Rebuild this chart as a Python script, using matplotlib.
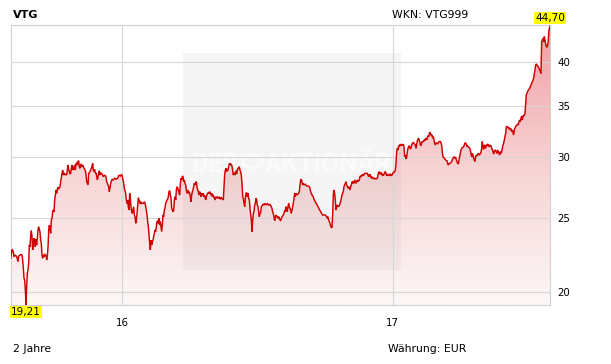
import numpy as np
import pandas as pd
import matplotlib
matplotlib.use("Agg")
import matplotlib.pyplot as plt
import matplotlib.dates as mdates
from matplotlib.colors import LinearSegmentedColormap
from matplotlib.image import AxesImage
from matplotlib.patches import Rectangle, Circle
from matplotlib.ticker import FixedLocator, FixedFormatter, NullLocator

title = "VTG"
wkn_label = "WKN: VTG999"
period_label = "2 Jahre"
currency_label = "Währung: EUR"
watermark_left = "DER"
watermark_right = "AKTIONÄR"
start_date = "2015-08-03"

# calendar-day offsets from start_date and closing prices (EUR)
days = [
    0.0, 1.8, 3.6, 4.5, 6.3, 8.1, 9.9, 10.8, 13.5, 15.3, 16.2, 17.1, 18.0, 18.9, 19.8, 20.7,
    21.6, 22.5, 23.4, 24.3, 25.2, 26.1, 27.0, 27.9, 28.8, 29.7, 30.6, 31.5, 32.4, 33.3, 34.2,
    35.1, 36.0, 36.9, 37.8, 38.7, 39.6, 40.5, 41.4, 42.3, 43.2, 44.1, 45.0, 45.9, 47.8, 48.7,
    49.6, 50.5, 51.4, 52.3, 53.2, 54.1, 55.0, 55.9, 56.8, 57.7, 58.6, 59.5, 60.4, 61.3, 62.2,
    63.1, 64.0, 64.9, 66.7, 67.6, 69.4, 70.3, 71.2, 72.1, 73.0, 73.9, 75.7, 77.5, 78.4, 79.3,
    80.2, 81.1, 82.0, 82.9, 83.8, 84.7, 85.6, 86.5, 87.4, 88.3, 89.2, 90.1, 91.0, 91.9, 92.8,
    93.7, 94.6, 95.5, 96.4, 97.3, 99.2, 101.0, 101.9, 102.8, 103.7, 104.6, 105.5, 107.3, 109.1,
    110.0, 110.9, 111.8, 112.7, 113.6, 114.5, 115.4, 116.3, 117.2, 118.1, 119.0, 119.9, 120.8,
    121.7, 123.5, 125.3, 127.1, 128.9, 129.8, 130.7, 132.5, 133.4, 134.3, 135.2, 136.1, 137.0,
    138.8, 140.6, 142.4,
    144.7, 146.5, 148.3, 150.1, 151.0, 152.8, 153.7, 155.5, 156.4, 157.3, 158.2, 159.1, 160.0,
    160.9, 161.8, 162.7, 163.6, 164.5, 165.4, 166.3, 167.3, 168.2, 169.1, 170.0, 170.9, 171.8,
    172.7, 173.6, 174.5, 175.4, 176.3, 177.2, 179.0, 179.9, 180.8, 181.7, 182.6, 183.5, 184.4,
    185.3, 186.2, 187.1, 188.0, 188.9, 189.8, 190.7, 191.6, 192.5, 193.4, 194.3, 195.2, 196.1,
    197.0, 197.9, 198.8, 199.7, 200.6, 201.5, 202.4, 203.3, 204.2, 205.1, 206.0, 206.9, 207.8,
    208.7, 209.6, 210.5, 211.4, 212.3, 213.2, 214.1, 215.0, 215.9, 216.9, 217.8, 218.7, 219.6,
    220.5, 221.4, 222.3, 223.2, 224.1, 225.0, 225.9, 226.8, 227.7, 228.6, 229.5, 230.4, 231.3,
    232.2, 233.1, 234.0, 234.9, 235.8, 236.7, 237.6, 238.5, 239.4, 240.3, 241.2, 242.1, 243.0,
    243.9, 244.8, 245.7, 246.6, 247.5, 248.4, 249.3, 250.2, 251.1, 252.0, 252.9, 253.8, 254.7,
    255.6, 256.5, 257.4, 258.3, 259.2, 260.1, 261.0, 261.9, 262.8, 263.7, 264.6, 265.5, 266.4,
    267.3, 268.3, 269.2, 270.1, 271.0, 271.9, 272.8, 273.7, 274.6, 275.5, 276.4, 277.3, 278.2,
    279.1, 280.9, 281.8, 282.7, 283.6, 284.5, 285.4,
    287.6, 288.5, 289.4, 290.3, 291.2, 292.1, 293.0, 293.9, 294.8, 295.7, 296.6, 297.5, 298.4,
    299.3, 300.2, 301.1, 302.0, 302.9, 303.8, 304.7, 305.6, 306.5, 307.4, 308.3, 309.2, 310.1,
    311.0, 311.9, 312.9, 313.8, 314.7, 315.6, 316.5, 317.4, 318.3, 319.2, 320.1, 321.0, 321.9,
    322.8, 323.7, 324.6, 325.5, 326.4, 327.3, 328.2, 329.1, 330.0, 330.9, 331.8, 332.7, 333.6,
    334.5, 335.4, 336.3, 337.2, 338.1, 339.0, 339.9, 340.8, 341.7, 342.6, 343.5, 345.3, 347.1,
    348.9, 350.7, 352.5, 353.4, 354.3, 355.2, 356.1, 357.0, 357.9, 358.8, 359.7, 360.6, 361.6,
    362.5, 363.4, 364.3, 365.2, 366.1, 367.0, 368.8, 369.7, 370.6, 371.5, 372.4, 373.3, 374.2,
    375.1, 376.0, 376.9, 377.8, 378.7, 379.6, 380.5, 381.4, 382.3, 383.2, 384.1, 385.0, 385.9,
    387.7, 389.5, 390.4, 391.3, 392.2, 393.1, 394.0, 394.9, 395.8, 396.7, 398.5, 400.3, 402.1,
    403.9, 404.8, 405.7, 406.6, 407.5, 409.3, 410.2, 412.1, 413.9, 415.7, 417.5, 419.3, 421.1,
    422.0, 423.8, 425.6, 427.4, 428.3, 429.2, 430.1, 431.0, 431.9, 432.8, 433.7,
    434.6, 435.5, 436.4, 437.3, 438.2, 439.1, 440.0, 440.9, 441.8, 442.7, 444.5, 445.4, 446.3,
    447.2, 448.1, 449.0, 449.9, 450.8, 451.7, 452.6, 453.5, 454.5, 455.4, 456.3, 457.2, 458.1,
    459.0, 459.9, 460.8, 461.7, 462.6, 463.5, 464.4, 465.3, 466.2, 467.1, 468.0, 468.9, 469.8,
    471.6, 472.5, 473.4, 474.3, 475.2, 476.1, 477.0, 477.9, 478.8, 480.6, 482.4, 483.3, 484.2,
    485.1, 486.0, 486.9, 487.8, 488.7, 489.6, 490.5, 491.4, 492.3, 494.1, 495.9, 496.8, 497.7,
    498.6, 499.5, 500.4, 501.3, 502.2, 503.1, 504.0, 504.9, 505.9, 506.8, 507.7, 508.6, 509.5,
    510.4, 511.3, 512.2, 513.1, 514.0, 514.9, 515.8, 516.7, 517.6, 518.5, 519.4, 520.3, 521.2,
    522.1, 523.0, 523.9, 524.8, 525.7, 526.6, 527.5, 528.4, 529.3, 530.2, 531.1, 532.0, 532.9,
    533.8, 534.7, 535.6, 536.5, 537.4, 538.3, 539.2, 540.1, 541.0, 541.9, 542.8, 543.7, 544.6,
    545.5, 546.4, 547.3, 548.2, 549.1, 550.0, 550.9, 551.8, 552.7, 553.6, 554.5, 555.4, 556.4,
    557.3, 558.2, 559.1, 560.0, 560.9, 561.8, 562.7, 563.6, 564.5, 565.4, 566.3, 567.2, 568.1,
    569.0, 569.9, 570.8, 571.7, 572.6, 573.5, 574.4,
    575.7, 577.5, 579.3, 581.1, 582.0, 582.9, 583.8, 584.7, 586.5, 588.3, 590.1, 591.0, 591.9,
    592.8, 593.7, 595.5, 596.4, 597.3, 598.2, 600.1, 601.0, 601.9, 602.8, 603.7, 604.6, 605.5,
    606.4, 607.3, 608.2, 609.1, 610.0, 611.8, 612.7, 613.6, 614.5, 615.4, 616.3, 617.2, 618.1,
    619.0, 619.9, 620.8, 621.7, 622.6, 623.5, 624.4, 625.3, 626.2, 627.1, 628.0, 628.9, 629.8,
    630.7, 631.6, 632.5, 633.4, 634.3, 635.2, 636.1, 637.0, 637.9, 638.8, 639.7, 640.6, 641.5,
    642.4, 643.3, 644.2, 645.1, 646.0, 646.9, 647.8, 648.7, 649.7, 650.6, 651.5, 652.4, 653.3,
    654.2, 655.1, 656.0, 656.9, 657.8, 658.7, 659.6, 660.5, 661.4, 662.3, 663.2, 664.1, 665.0,
    665.9, 666.8, 667.7, 668.6, 669.5, 670.4, 671.3, 672.2, 673.1, 674.0, 674.9, 675.8, 676.7,
    677.6, 678.5, 679.4, 680.3, 681.2, 682.1, 683.0, 683.9, 684.8, 685.7, 686.6, 687.5, 688.4,
    689.3, 690.2, 691.1, 692.0, 692.9, 693.8, 694.7, 695.6, 696.5, 697.4, 698.3, 699.2, 700.1,
    701.0, 701.9, 702.9, 703.8, 704.7, 705.6, 706.5, 707.4, 708.3, 709.2, 710.1, 711.0, 711.9,
    712.8, 713.7, 714.6, 715.5, 716.4, 717.3, 718.2, 719.1, 720.0, 720.9, 721.8, 722.7, 723.6,
    724.5, 725.4, 726.3, 727.2, 728.1, 729.0, 729.9,
]

close = [
    22.12, 22.73, 22.56, 22.22, 22.34, 22.22, 21.89, 22.27, 22.36, 22.34, 22.00, 21.46, 20.82, 20.71, 20.10, 19.21,
    20.30, 21.14, 21.35, 21.78, 23.02, 22.90, 23.66, 24.04, 23.61, 22.68, 23.02, 23.49, 23.37, 22.90, 23.42,
    23.02, 23.49, 24.09, 24.33, 24.14, 23.97, 23.37, 23.14, 22.34, 22.12, 22.34, 22.22, 22.41, 22.27, 22.00,
    22.34, 22.90, 24.09, 24.45, 24.21, 23.85, 24.82, 24.95, 25.45, 25.58, 25.45, 26.37, 26.77, 27.18, 26.91,
    27.24, 27.40, 27.24, 27.45, 27.87, 28.57, 28.86, 28.43, 28.63, 28.43, 28.52, 28.43, 29.30, 28.92, 28.72,
    28.52, 28.57, 29.01, 29.30, 29.01, 28.86, 29.15, 29.30, 28.86, 29.39, 29.51, 29.30, 29.60, 29.69, 29.15,
    29.01, 29.30, 29.39, 29.15, 29.30, 29.01, 28.80, 28.43, 27.87, 27.73, 27.59, 28.57, 28.72, 29.01,
    29.21, 29.45, 28.86, 28.72, 28.92, 28.57, 28.63, 28.29, 28.01, 28.29, 28.57, 28.80, 28.43,
    28.63, 28.52, 28.29, 28.43, 28.29, 27.87, 27.73, 27.45, 27.04, 27.32, 27.73, 27.87, 28.07,
    28.01, 28.15, 28.07,
    28.15, 28.43, 28.35, 28.49, 28.29, 27.73, 27.32, 26.91, 26.37, 26.10, 26.37, 25.84, 25.58,
    26.91, 26.50, 25.84, 25.45, 25.33, 25.58, 25.84, 25.20, 25.07, 24.58, 24.82, 25.33, 25.97,
    26.55, 26.37, 26.23, 26.05, 26.23, 26.10, 26.10, 26.15, 26.23, 26.10, 25.84, 25.58, 25.20,
    24.70, 24.33, 23.73, 23.14, 22.68, 23.37, 23.02, 23.25, 23.37, 23.61, 23.85, 24.09, 23.97,
    24.33, 24.70, 24.77, 24.58, 24.95, 24.45, 24.70, 24.33, 23.97, 24.45, 25.20, 25.07, 25.58,
    25.71, 26.10, 26.23, 26.37, 26.43, 26.63, 27.04, 27.12, 26.77, 26.50, 25.71, 25.58, 25.45,
    25.58, 26.37, 26.63, 26.37, 27.18, 27.45, 27.32, 27.18, 26.91, 26.77, 27.73, 28.15, 28.01,
    28.35, 28.29, 27.87, 28.01, 27.73, 27.59, 27.18, 26.91, 27.18, 26.91, 27.04, 26.91, 26.63,
    26.23, 26.77, 27.04, 27.18, 27.45, 27.73, 27.59, 27.78, 27.87, 27.45, 27.18, 27.04, 26.77,
    27.04, 26.91, 26.63, 26.91, 26.77, 26.91, 26.63, 26.77, 26.63, 26.37, 26.63, 26.77, 26.91,
    26.96, 26.91, 27.04, 26.91, 26.77, 26.91, 26.63, 26.77, 26.63, 26.50, 26.37, 26.63, 26.50,
    26.63, 26.50, 26.63, 26.50, 26.43, 26.59, 26.50,
    26.37, 27.45, 28.43, 28.86, 29.01, 28.72, 28.92, 28.86, 29.15, 29.39, 29.45, 29.30, 29.39,
    29.21, 28.86, 28.43, 28.57, 28.63, 28.43, 28.80, 28.52, 28.86, 29.01, 29.01, 29.15, 28.86,
    28.72, 28.43, 27.73, 26.63, 26.50, 26.10, 25.84, 26.50, 26.91, 26.96, 26.63, 26.91, 26.50,
    26.37, 25.71, 25.20, 24.82, 23.97, 24.82, 25.33, 25.45, 25.97, 26.10, 26.50, 26.37, 25.97,
    25.84, 25.45, 25.07, 25.33, 25.38, 25.84, 25.89, 25.97, 26.05, 25.97, 26.10, 25.97, 26.10,
    25.97, 26.02, 25.84, 25.71, 25.45, 25.33, 25.07, 24.77, 24.95, 25.20, 25.07, 25.12, 24.95,
    25.07, 24.95, 24.82, 24.77, 24.95, 25.07, 25.20, 25.33, 25.58, 25.45, 25.84, 25.58, 25.45,
    25.84, 26.10, 25.84, 25.71, 25.58, 25.33, 25.58, 25.84, 26.10, 26.50, 26.91, 26.63, 26.91,
    26.77, 26.91, 27.04, 27.59, 28.01, 28.07, 27.87, 27.59, 27.73, 27.59, 27.65, 27.51, 27.51,
    27.45, 27.32, 27.04, 26.91, 26.77, 26.63, 26.43, 26.23, 26.05, 25.84, 25.63, 25.45, 25.27,
    25.20, 25.20, 25.20, 25.07, 24.95, 25.07, 24.82, 24.70, 24.58, 24.38, 24.28,
    24.25, 25.20, 26.77, 27.18, 26.91, 26.37, 25.58, 25.84, 25.97, 25.84, 25.92, 26.10, 26.23,
    26.50, 26.77, 26.91, 27.04, 27.45, 27.59, 27.73, 27.87, 27.59, 27.45, 27.32, 27.45, 27.32,
    27.18, 27.45, 27.59, 27.87, 27.73, 27.87, 27.73, 28.01, 27.87, 27.73, 27.87, 28.01, 27.87,
    28.01, 28.29, 28.37, 28.29, 28.43, 28.49, 28.37, 28.49, 28.57, 28.57, 28.57, 28.43, 28.29,
    28.43, 28.49, 28.29, 28.15, 28.29, 28.15, 28.20, 28.09, 28.15, 28.09, 28.15, 28.43, 28.66,
    28.72, 28.49, 28.57, 28.66, 28.43, 28.49, 28.37, 28.49, 28.66, 28.72, 28.57, 28.37, 28.49,
    28.43, 28.37, 28.49, 28.49, 28.37, 28.43, 28.43, 28.57, 28.66, 28.66, 28.72, 28.86, 29.45,
    30.51, 30.82, 30.66, 31.06, 30.97, 31.20, 31.13, 31.06, 31.20, 31.13, 31.20, 30.97, 30.05,
    30.20, 29.84, 29.96, 30.51, 30.82, 30.97, 31.06, 30.82, 30.75, 30.97, 31.20, 31.29, 31.39,
    31.29, 31.20, 31.13, 30.82, 31.13, 31.51, 31.70, 31.77, 31.51, 31.39, 31.06, 31.20, 31.45,
    31.39, 31.51, 31.60, 31.51, 31.70, 31.77, 31.60, 31.82, 32.02, 31.92, 32.25, 32.35, 32.15,
    32.02, 32.08, 31.77, 31.92, 31.60, 31.29, 31.13,
    31.35, 31.23, 31.45, 31.45, 31.35, 31.13, 30.51, 30.05, 29.90, 29.75, 29.69, 29.45, 29.30,
    29.39, 29.45, 29.51, 29.60, 29.75, 29.90, 30.05, 29.90, 29.99, 29.75, 29.60, 29.45, 29.39,
    29.75, 30.05, 30.35, 30.66, 30.82, 30.91, 30.97, 31.13, 31.35, 31.29, 31.23, 30.97, 31.04,
    30.97, 30.91, 30.82, 30.66, 30.35, 30.05, 30.35, 30.20, 29.90, 29.75, 29.60, 30.05, 30.20,
    30.11, 30.20, 30.35, 30.26, 30.20, 30.35, 30.41, 30.82, 31.45, 30.97, 30.72, 31.13, 31.04,
    30.82, 31.13, 31.04, 31.23, 31.13, 30.97, 31.04, 31.13, 31.04, 30.82, 30.72, 30.51, 30.29,
    30.51, 30.66, 30.60, 30.51, 30.35, 30.66, 30.51, 30.35, 30.20, 30.51, 30.35, 30.51, 30.82,
    31.13, 31.29, 31.60, 31.92, 32.25, 32.86, 32.92, 32.76, 32.86, 32.76, 32.57, 32.76, 32.66,
    32.42, 32.57, 32.31, 32.08, 32.57, 32.76, 32.92, 32.99, 33.06, 33.16, 33.06, 33.39, 33.56,
    33.39, 33.73, 33.97, 33.56, 33.90, 34.07, 33.97, 34.25, 35.12, 36.19, 36.38, 36.56, 36.74,
    36.82, 36.93, 37.11, 37.30, 37.49, 37.68, 37.87, 38.06, 38.63, 39.03, 39.62, 39.74, 39.62,
    39.50, 39.42, 39.23, 39.03, 38.83, 38.63, 42.49, 42.72, 42.94, 42.49, 43.16, 42.72, 42.21,
    41.95, 41.79, 42.08, 42.72, 44.03, 44.25, 44.70,
]

y_ticks = [20, 25, 30, 35, 40]
x_tick_dates = ["2016-01-01", "2017-01-01"]
x_tick_labels = ["16", "17"]

W, H = 611, 364
fig = plt.figure(figsize=(W / 100, H / 100), dpi=100)
fig.patch.set_facecolor("white")
ax = fig.add_axes([10.7 / W, 59 / H, 539.6 / W, 280 / H])

dates = mdates.date2num(pd.Timestamp(start_date) + pd.to_timedelta(days, unit="D"))
vals = np.array(close)
ymin, ymax = vals.min(), vals.max()

ax.set_yscale("log")
ax.set_xlim(dates[0], dates[-1])
ax.set_ylim(ymin, ymax)

# gradient fill under the line
cmap = LinearSegmentedColormap.from_list("fillgrad", ["#fdf7f7", "#f7d2d3", "#f09ea3"])
im = AxesImage(ax, cmap=cmap, origin="lower", interpolation="bilinear",
               extent=(0, 1, 0, 1), transform=ax.transAxes, zorder=1)
im.set_data(np.linspace(0, 1, 256).reshape(-1, 1))
ax.add_image(im)
poly = ax.fill_between(dates, vals, 1.0, facecolor="none", edgecolor="none")
im.set_clip_path(poly.get_paths()[0], transform=ax.transData)

# watermark panel
ax.add_patch(Rectangle(((183 - 10.7) / 539.6, (305 - 270) / 280), 217.5 / 539.6, 217 / 280,
                       transform=ax.transAxes, facecolor="#7f7f7f", alpha=0.07,
                       edgecolor="none", zorder=1.5))
wm_alpha = 0.6
ax.text(191.7 / W, 1 - 171.5 / H, watermark_left, transform=fig.transFigure, family="Roboto",
        fontweight="bold", fontsize=18.5, color="white", alpha=wm_alpha, ha="left",
        va="baseline", zorder=1.6)
ax.text(265 / W, 1 - 171.5 / H, watermark_right, transform=fig.transFigure, family="Roboto",
        fontweight="bold", fontsize=18.5, color="white", alpha=wm_alpha, ha="left",
        va="baseline", zorder=1.6)
ax.add_patch(Circle((252.5 / W, 1 - 161.7 / H), 10 / W, transform=fig.transFigure,
                    facecolor="none", edgecolor="white", lw=2.2, alpha=wm_alpha, zorder=1.6))

ax.plot(dates, vals, color="#d10000", lw=1.05, zorder=3, solid_joinstyle="miter")

# axes styling
for s in ax.spines.values():
    s.set_color("#d0d0d0")
    s.set_linewidth(0.8)
ax.set_axisbelow(False)
ax.yaxis.set_major_locator(FixedLocator(y_ticks))
ax.yaxis.set_major_formatter(FixedFormatter([str(t) for t in y_ticks]))
ax.yaxis.set_minor_locator(NullLocator())
xt = mdates.date2num(pd.to_datetime(x_tick_dates))
ax.xaxis.set_major_locator(FixedLocator(xt))
ax.xaxis.set_major_formatter(FixedFormatter(x_tick_labels))
ax.xaxis.set_minor_locator(NullLocator())
ax.grid(True, color="#d6d6d6", lw=0.8, zorder=2)
ax.tick_params(axis="y", which="both", length=0, pad=5, labelsize=7.4,
               labelright=True, labelleft=False)
ax.tick_params(axis="x", which="both", length=0, pad=9.5, labelsize=7.4)

# yellow min / max labels
fmt = lambda v: f"{v:.2f}".replace(".", ",")
i_max, i_min = int(vals.argmax()), int(vals.argmin())
box = dict(boxstyle="square,pad=0.08", fc="#ffff00", ec="none")
ax.annotate(fmt(ymax), xy=(dates[i_max], ymax), xytext=(0, 1.5), textcoords="offset points",
            ha="center", va="bottom", fontsize=7.6, bbox=box, annotation_clip=False, zorder=5)
ax.annotate(fmt(ymin), xy=(dates[i_min], ymin), xytext=(0, -1.5), textcoords="offset points",
            ha="center", va="top", fontsize=7.6, bbox=box, annotation_clip=False, zorder=5)

# header / footer texts
fig.text(12.5 / W, 1 - 17.5 / H, title, fontsize=8, fontweight="bold", ha="left", va="baseline")
fig.text(468.5 / W, 1 - 18.3 / H, wkn_label, fontsize=7.8, ha="right", va="baseline")
fig.text(12.5 / W, 1 - 351.5 / H, period_label, fontsize=7.8, ha="left", va="baseline")
fig.text(388 / W, 1 - 351.5 / H, currency_label, fontsize=7.8, ha="left", va="baseline")

fig.savefig("out.png", dpi=100)
